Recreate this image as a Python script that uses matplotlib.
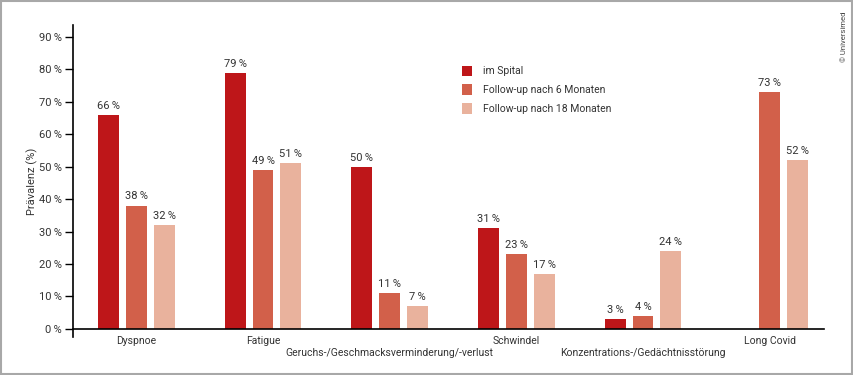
import numpy as np
import matplotlib
matplotlib.use("Agg")
import matplotlib.pyplot as plt
from matplotlib.patches import Rectangle

plt.rcParams['font.family'] = ['Roboto', 'DejaVu Sans']

# -------------------------
# Daten
# -------------------------
categories = ["Dyspnoe", "Fatigue", "Geruchs-/Geschmacksverminderung/-verlust",
              "Schwindel", "Konzentrations-/Gedächtnisstörung", "Long Covid"]
series_names = ["im Spital", "Follow-up nach 6 Monaten", "Follow-up nach 18 Monaten"]
spital = [66, 79, 50, 31, 3, None]
fu6 = [38, 49, 11, 23, 4, 73]
fu18 = [32, 51, 7, 17, 24, 52]
yticks = [0, 10, 20, 30, 40, 50, 60, 70, 80, 90]

colors = ["#BE1619", "#D2604A", "#E9B29D"]
text_col = "#333333"

fig = plt.figure(figsize=(8.54, 3.75), dpi=100)
ax = fig.add_axes([0.0855, 0.1013, 0.8795, 0.832])

x = np.arange(len(categories))
width = 0.165
step = 0.22

for i, (vals, name, col) in enumerate(zip([spital, fu6, fu18], series_names, colors)):
    xs = [xi + (i - 1) * step for xi, v in zip(x, vals) if v is not None]
    vs = [v for v in vals if v is not None]
    ax.bar(xs, vs, width=width, color=col, label=name, zorder=2)
    for xi, v in zip(xs, vs):
        ax.annotate(f"{v}\u2009%", (xi, v), xytext=(0, 3), textcoords="offset points",
                    ha="center", va="bottom", fontsize=8, color=text_col)

ax.set_xlim(-0.5, 5.43)
ax.set_ylim(-2.5, 93.7)
ax.spines['top'].set_visible(False)
ax.spines['right'].set_visible(False)
ax.spines['bottom'].set_position(('data', 0))
ax.spines['left'].set_linewidth(1.2)
ax.spines['bottom'].set_linewidth(1.2)

ax.set_yticks(yticks)
ax.set_yticklabels([f"{t}\u2009%" for t in yticks], fontsize=8, color=text_col)
ax.tick_params(axis='y', length=6, width=1.0, direction='out', pad=2)
ax.set_xticks([])

# Kategorien: lange Labels in zweiter Zeile
for i, cat in enumerate(categories):
    off = -14 if i in (2, 4) else -5
    ax.annotate(cat, (x[i], 0), xytext=(0, off), textcoords="offset points",
                ha="center", va="top", fontsize=7.5, color=text_col)

ax.set_ylabel("Prävalenz (%)", fontsize=8, color=text_col, labelpad=1)

ax.legend(loc="upper left", bbox_to_anchor=(0.505, 0.90), frameon=False, fontsize=7.5,
          handlelength=1.0, handleheight=1.2, handletextpad=1.0, labelspacing=0.75,
          labelcolor=text_col)

fig.text(0.988, 0.97, "© Universimed", rotation=90, ha="center", va="top",
         fontsize=5.5, color="#444444")

fig.patches.append(Rectangle((0.001, 0.002), 0.997, 0.995, transform=fig.transFigure,
                             fill=False, edgecolor="#a8a8a8", linewidth=1.5))

fig.savefig("out.png", dpi=100)
